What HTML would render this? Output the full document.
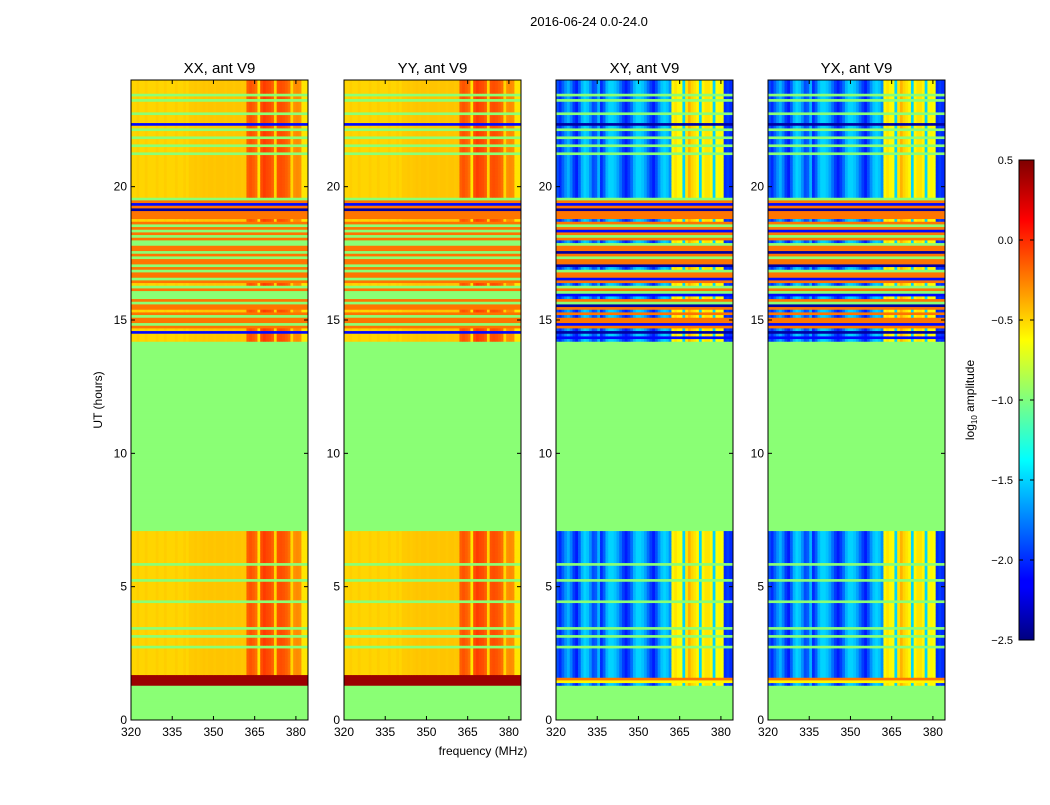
<!DOCTYPE html>
<html><head><meta charset="utf-8"><style>
body{margin:0;background:#fff}
svg text{font-family:"Liberation Sans","DejaVu Sans",sans-serif;fill:#000}
</style></head><body>
<svg id="fig" width="1050" height="800" viewBox="0 0 1050 800" xmlns="http://www.w3.org/2000/svg">
<rect width="1050" height="800" fill="#fff"/>
<text x="589" y="26" font-size="13" text-anchor="middle">2016-06-24 0.0-24.0</text>
<text x="483" y="755" font-size="12" text-anchor="middle">frequency (MHz)</text>
<text transform="translate(102,400) rotate(-90)" font-size="12" text-anchor="middle">UT (hours)</text>
<g id="panels"></g>
<defs><linearGradient id="jet" x1="0" y1="1" x2="0" y2="0">
<stop offset="0" stop-color="#00007f"/><stop offset="0.11" stop-color="#0000ff"/><stop offset="0.125" stop-color="#0000ff"/>
<stop offset="0.375" stop-color="#00ffff"/><stop offset="0.5" stop-color="#7fff7f"/><stop offset="0.625" stop-color="#ffff00"/>
<stop offset="0.875" stop-color="#ff0000"/><stop offset="1" stop-color="#7f0000"/></linearGradient></defs>
<rect x="1019" y="160" width="15" height="480" fill="url(#jet)" stroke="#000" stroke-width="1"/>
<g id="cbar"></g>
<text transform="translate(974,400) rotate(-90)" font-size="12" text-anchor="middle">log<tspan font-size="8" dy="3">10</tspan><tspan dy="-3"> amplitude</tspan></text>
</svg>
<script>
// ---- data ----
const panelTitles = ["XX, ant V9","YY, ant V9","XY, ant V9","YX, ant V9"];
const panelKinds = ["par","par","cross","cross"];
const xTicks = [320,335,350,365,380];
const yTicks = [0,5,10,15,20];
const cbarTicks = [0.5,0.0,-0.5,-1.0,-1.5,-2.0,-2.5];
const cbarLabels = ["0.5","0.0","\u22120.5","\u22121.0","\u22121.5","\u22122.0","\u22122.5"];
// frequency profile (log10 amplitude), one value per MHz, 320..383
const parProfile = [-0.5,-0.5,-0.48,-0.5,-0.5,-0.48,-0.5,-0.5,-0.5,-0.48,-0.5,-0.5,-0.48,-0.5,-0.5,-0.5,-0.48,-0.5,-0.5,-0.48,-0.5,
 -0.47,-0.47,-0.46,-0.47,-0.46,-0.45,-0.46,-0.45,-0.45,-0.46,-0.45,-0.45,-0.45,-0.46,-0.45,-0.45,-0.46,-0.45,-0.45,-0.46,-0.45,
 -0.15,-0.12,-0.15,-0.2,-0.55,-0.1,-0.05,-0.08,-0.1,-0.15,-0.5,-0.12,-0.1,-0.12,-0.15,-0.2,-0.5,-0.3,-0.28,-0.3,-0.55,-0.55];
const crossProfile = [-1.9,-2.0,-1.85,-1.7,-1.6,-1.75,-1.95,-2.05,-1.85,-1.6,-1.5,-1.55,-1.7,-1.9,-1.85,-1.6,-2.0,-1.85,-1.6,-1.5,-1.5,
 -1.55,-1.65,-1.8,-1.95,-2.05,-1.95,-1.8,-1.6,-1.5,-1.5,-1.55,-1.65,-1.8,-1.95,-2.05,-1.9,-1.7,-1.55,-1.5,-1.55,-1.7,
 -0.6,-0.55,-0.6,-0.65,-1.5,-0.55,-0.4,-0.5,-0.55,-0.6,-1.5,-0.6,-0.55,-0.55,-0.6,-1.5,-0.65,-0.6,-0.65,-2.0,-1.95,-2.0];
// time rows, 0.1 h each, from 0 h (10 chars per hour).
// g=flagged, d=data, R=dark red, r=orange stripe, b=blue line, k=navy, y=yellow
const parRows = "gggggggggg"+"gggRRRRddd"+"dddddddgdd"+"dgddgddddd"+"ddddgddddd"+"ddgdddddgd"+"dddddddddd"+"dggggggggg"+
 "gggggggggg"+"gggggggggg"+"gggggggggg"+"gggggggggg"+"gggggggggg"+"gggggggggg"+
 "ggdddbdrgr"+"rgrdrrgrgg"+"grgdrgrrgr"+"grrgrgrrgg"+"rgrgrgrdrr"+"rkrbrgdddd"+
 "dddddddddd"+"ddgddgddgd"+"dgdbdddgdd"+"ddgdgddddd";
const crossRows = "gggggggggg"+"gggdyrdddd"+"dddddddgdd"+"dgddgddddd"+"ddddgddddd"+"ddgdddddgd"+"dddddddddd"+"dggggggggg"+
 "gggggggggg"+"gggggggggg"+"gggggggggg"+"gggggggggg"+"gggggggggg"+"gggggggggg"+
 "ggdbdkdrbr"+"rdrdrkgrdb"+"grgdrbrrgd"+"krrgrkrrgd"+"rgrbrgrdrr"+"rkrbrgdddd"+
 "dddddddddd"+"ddgddgddgd"+"dgdkdddgdd"+"ddgdgddddd";
const rowValues = {g:-0.97, R:0.42, r:-0.22, b:-2.1, k:-2.4, y:-0.6};

// ---- layout ----
const panelX = [131,344,556,768], pw = 177, plotTop = 80, plotBottom = 720;
const fMin = 320, fMax = 384.4, tMax = 24;
const NS = "http://www.w3.org/2000/svg";
function xs(px, f){ return px + (f - fMin) / (fMax - fMin) * pw; }
function ys(t){ return plotBottom - t / tMax * (plotBottom - plotTop); }
function jet(v){
  let x = (v + 2.5) / 3; x = Math.max(0, Math.min(1, x));
  const c = a => Math.round(255 * Math.max(0, Math.min(1, a)));
  return `rgb(${c(1.5-Math.abs(4*x-3))},${c(1.5-Math.abs(4*x-2))},${c(1.5-Math.abs(4*x-1))})`;
}
function mk(tag, attrs, parent){
  const e = document.createElementNS(NS, tag);
  for (const k in attrs) e.setAttribute(k, attrs[k]);
  parent.appendChild(e); return e;
}
const panels = document.getElementById("panels");
panelTitles.forEach((title, p) => {
  const px = panelX[p];
  const g = mk("g", {}, panels);
  
  
  const rows = panelKinds[p] === "par" ? parRows : crossRows;
  const prof = panelKinds[p] === "par" ? parProfile : crossProfile;
  const dt = tMax / rows.length;
  for (let r = 0; r < rows.length; r++) {
    const ch = rows[r];
    const y0 = ys((r + 1) * dt), y1 = ys(r * dt);
    let segs = [];
    if (ch === "d") {
      for (let c = 0; c < prof.length; c++) segs.push([fMin + c, fMin + c + 1, prof[c]]);
      segs[segs.length - 1][1] = fMax;
    } else segs.push([fMin, fMax, rowValues[ch]]);
    let i = 0;
    while (i < segs.length) {
      let j = i; const col = jet(segs[i][2]);
      while (j + 1 < segs.length && jet(segs[j + 1][2]) === col) j++;
      const a = xs(px, segs[i][0]), b = xs(px, segs[j][1]);
      const rc = mk("rect", {x: a.toFixed(2), y: y0.toFixed(2), width: (b - a + 0.4).toFixed(2), height: (y1 - y0 + 0.4).toFixed(2), fill: col}, g);
      
      
      i = j + 1;
    }
  }
  const frame = mk("rect", {x: px, y: plotTop, width: pw, height: plotBottom - plotTop, fill: "none", stroke: "#000", "stroke-width": 1}, g);
  
  
  const tt = mk("text", {x: px + pw / 2, y: 73, "font-size": 15, "text-anchor": "middle"}, g);
  tt.textContent = title;
  
  
  xTicks.forEach(f => {
    const x = xs(px, f);
    mk("line", {x1: x, x2: x, y1: plotBottom, y2: plotBottom - 4, stroke: "#000"}, g);
    mk("line", {x1: x, x2: x, y1: plotTop, y2: plotTop + 4, stroke: "#000"}, g);
    const t = mk("text", {x: x, y: plotBottom + 16, "font-size": 12, "text-anchor": "middle"}, g);
    t.textContent = f;
    
    
  });
  yTicks.forEach(v => {
    const y = ys(v);
    mk("line", {x1: px, x2: px + 4, y1: y, y2: y, stroke: "#000"}, g);
    mk("line", {x1: px + pw, x2: px + pw - 4, y1: y, y2: y, stroke: "#000"}, g);
    const t = mk("text", {x: px - 4, y: y + 4, "font-size": 12, "text-anchor": "end"}, g);
    t.textContent = v;
    
    
  });
});
const cb = document.getElementById("cbar");
cbarTicks.forEach((v, i) => {
  const y = 160 + (0.5 - v) / 3 * 480;
  mk("line", {x1: 1019, x2: 1023, y1: y, y2: y, stroke: "#000"}, cb);
  mk("line", {x1: 1034, x2: 1030, y1: y, y2: y, stroke: "#000"}, cb);
  const t = mk("text", {x: 1013, y: y + 4, "font-size": 11, "text-anchor": "end"}, cb);
  t.textContent = cbarLabels[i];
  
  
});
</script>
</body></html>
